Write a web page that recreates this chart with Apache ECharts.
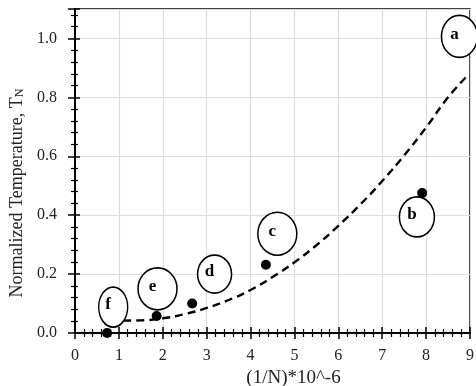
<!DOCTYPE html>
<html>
<head>
<meta charset="utf-8">
<script src="https://cdn.jsdelivr.net/npm/echarts@6/dist/echarts.min.js"></script>
<style>
  html, body { margin: 0; padding: 0; background: #fff; }
  #chart { width: 476px; height: 386px; }
</style>
</head>
<body>
<div id="chart"></div>
<script>
// measured points
const pointX = [0.73, 1.86, 2.67, 4.35, 7.91]
const pointY = [0.0, 0.058, 0.10, 0.232, 0.475]

// dashed trend curve
const trendX = [1.1, 1.5, 2.0, 2.5, 3.0, 3.5, 4.0, 4.5, 5.0, 5.5, 6.0, 6.5, 7.0, 7.5, 8.0, 8.5, 8.95]
const trendY = [0.042, 0.043, 0.05, 0.064, 0.085, 0.112, 0.146, 0.19, 0.24, 0.298, 0.364, 0.436, 0.516, 0.603, 0.698, 0.8, 0.875]

// circled letters
const labelNames = ['a', 'b', 'c', 'd', 'e', 'f']
const labelX = [8.76, 7.79, 4.61, 3.18, 1.88, 0.87]
const labelY = [1.007, 0.394, 0.337, 0.20, 0.15, 0.088]

const xMin = 0, xMax = 9, xStep = 1
const yMin = 0, yMax = 1.1, yStep = 0.2

const serif = 'Liberation Serif'
const ellipseSize = { a: [36, 42], b: [35, 40], c: [39, 43], d: [34, 38], e: [39, 42], f: [29, 40] }

const chart = echarts.init(document.getElementById('chart'))

const axisBase = {
  type: 'value',
  splitLine: { show: false },
  axisLine: { show: false },
  axisLabel: { show: false },
}

chart.setOption({
  animation: false,
  backgroundColor: '#fff',
  grid: {
    left: 75, right: 6, top: 9, bottom: 53,
    outerBoundsMode: 'none', containLabel: false,
    show: true, borderColor: '#000', borderWidth: 1.5,
  },
  xAxis: [
    {
      type: 'value', min: xMin, max: xMax, interval: xStep,
      name: '(1/N)*10^-6', nameLocation: 'middle', nameGap: 31,
      nameTextStyle: { fontFamily: serif, fontSize: 19, color: '#222', padding: [0, 0, 0, 42] },
      axisLine: { show: true, onZero: false, lineStyle: { color: '#000', width: 2 } },
      axisTick: { show: true, length: 6, lineStyle: { color: '#000', width: 1.5 } },
      minorTick: { show: true, splitNumber: 5, length: 4, lineStyle: { color: '#000', width: 1.2 } },
      axisLabel: { fontFamily: serif, fontSize: 16, color: '#222', margin: 15 },
      splitLine: { show: true, lineStyle: { color: '#dcdcdc', width: 1.2 } },
    },
    {
      ...axisBase, min: xMin, max: xMax, interval: xStep, position: 'bottom',
      axisTick: { show: true, inside: true, length: 6, lineStyle: { color: '#000', width: 1.5 } },
      minorTick: { show: true, splitNumber: 5, length: 4, lineStyle: { color: '#000', width: 1.2 } },
    },
  ],
  yAxis: [
    {
      type: 'value', min: yMin, max: yMax, interval: yStep,
      name: 'Normalized Temperature, T{sub|N}', nameLocation: 'middle', nameGap: 46,
      nameTextStyle: {
        fontFamily: serif, fontSize: 18, color: '#222', padding: [0, 44, 0, 0],
        rich: { sub: { fontFamily: serif, fontSize: 12, color: '#222', verticalAlign: 'bottom', lineHeight: 17 } },
      },
      axisLine: { show: true, onZero: false, lineStyle: { color: '#000', width: 2 } },
      axisTick: { show: true, length: 7, lineStyle: { color: '#000', width: 1.5 } },
      minorTick: { show: true, splitNumber: 5, length: 4, lineStyle: { color: '#000', width: 1.2 } },
      axisLabel: {
        fontFamily: serif, fontSize: 16, color: '#222', margin: 18, showMaxLabel: false,
        formatter: v => v.toFixed(1),
      },
      splitLine: { show: true, lineStyle: { color: '#dcdcdc', width: 1.2 } },
    },
    {
      ...axisBase, min: yMin, max: yMax, interval: yStep, position: 'left',
      axisTick: { show: true, inside: true, length: 5, lineStyle: { color: '#000', width: 1.5 } },
      minorTick: { show: true, splitNumber: 5, length: 3, lineStyle: { color: '#000', width: 1.2 } },
    },
  ],
  series: [
    {
      type: 'line',
      data: trendX.map((x, i) => [x, trendY[i]]),
      smooth: true,
      showSymbol: false,
      lineStyle: { color: '#000', width: 2.4, type: [8, 5] },
      z: 2,
    },
    {
      type: 'scatter',
      clip: false,
      data: labelNames.map((n, i) => ({
        name: n,
        value: [labelX[i], labelY[i]],
        symbolSize: ellipseSize[n],
      })),
      symbol: 'circle',
      itemStyle: { color: '#fff', borderColor: '#000', borderWidth: 1.6, opacity: 1 },
      label: {
        show: true, position: 'inside', offset: [-5, -2],
        formatter: p => p.name,
        fontFamily: serif, fontSize: 17, fontWeight: 'bold', color: '#000',
      },
      z: 3,
    },
    {
      type: 'scatter',
      clip: false,
      data: pointX.map((x, i) => [x, pointY[i]]),
      symbol: 'circle',
      symbolSize: 10,
      itemStyle: { color: '#000', opacity: 1 },
      z: 4,
    },
  ],
})
</script>
</body>
</html>
